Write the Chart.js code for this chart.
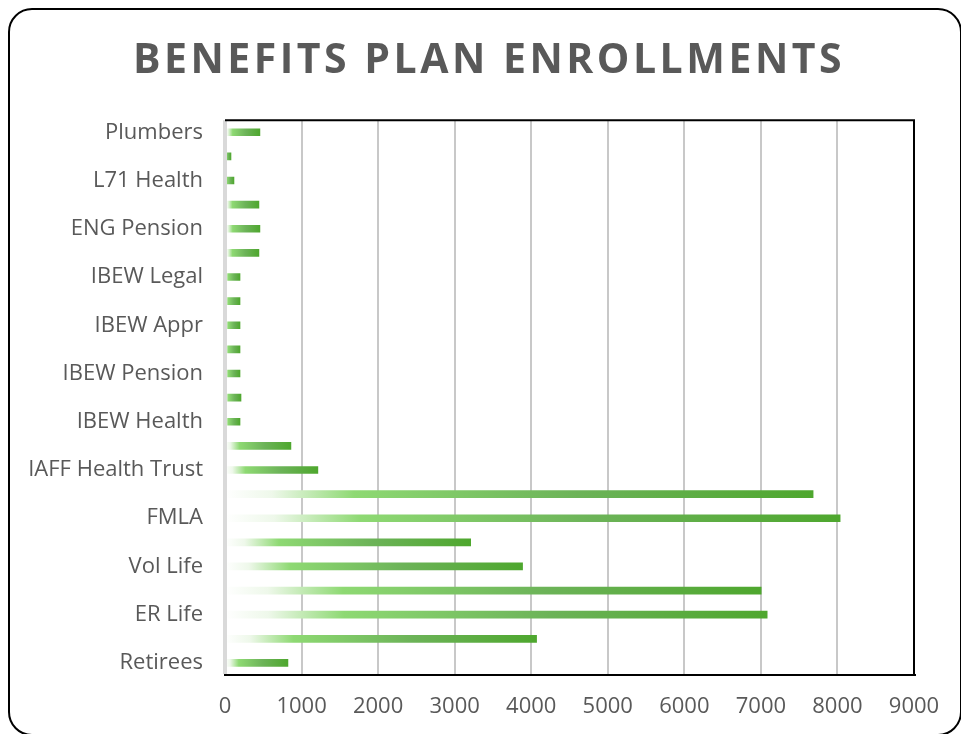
<!DOCTYPE html>
<html>
<head>
<meta charset="utf-8">
<script src="https://cdn.jsdelivr.net/npm/chart.js@4/dist/chart.umd.min.js"></script>
<style>
  html, body { margin: 0; padding: 0; background: #ffffff; }
  #wrap { position: relative; width: 961px; height: 734px; overflow: hidden; }
  #frame {
    position: absolute; left: 8px; top: 8px; width: 954px; height: 728px;
    box-sizing: border-box; border: 2px solid #000; border-radius: 24px; background: #fff;
  }
  #holder { position: absolute; left: 0; top: 0; width: 961px; height: 734px; }
</style>
</head>
<body>
<div id="wrap">
  <div id="frame"></div>
  <div id="holder"><canvas id="chart"></canvas></div>
</div>
<script>
// Plans listed from the top of the chart down to the bottom
const plans = [
  'Plumbers', 'L71 Pension', 'L71 Health', 'ENG Health', 'ENG Pension', 'ENG Annuity',
  'IBEW Legal', 'IBEW Vision', 'IBEW Appr', 'IBEW Annuity', 'IBEW Pension', 'IBEW Dental',
  'IBEW Health', 'IAFF Pension', 'IAFF Health Trust', 'STD', 'FMLA', 'Vision',
  'Vol Life', 'LTD', 'ER Life', 'Dental', 'Retirees'
];
const enrollments = [
  456, 78, 117, 443, 456, 443,
  196, 196, 196, 196, 196, 209,
  196, 861, 1213, 7682, 8035, 3209,
  3887, 7004, 7082, 4070, 822
];
const axisMax = 9000;
const axisStep = 1000;

const textGrey = '#595959';
const baseFont = "'Open Sans', 'Liberation Sans', sans-serif";

// Each bar fades from white at its base to deep green at its tip
function barGradient(context) {
  const chart = context.chart;
  const area = chart.chartArea;
  if (!area || context.type !== 'data') return '#4ea72e';
  const xs = chart.scales.x;
  const x0 = xs.getPixelForValue(0);
  const x1 = xs.getPixelForValue(context.parsed.x);
  if (!isFinite(x0) || !isFinite(x1) || x1 - x0 < 1) return '#4ea72e';
  const g = chart.ctx.createLinearGradient(x0, 0, x1, 0);
  g.addColorStop(0, 'rgba(255,255,255,1)');
  g.addColorStop(0.08, '#eef8ea');
  g.addColorStop(0.22, '#8ed973');
  g.addColorStop(0.6, '#6cb358');
  g.addColorStop(1, '#4ea72e');
  return g;
}

// Black top edge of the plot frame, plus the grey zero line over the bar bases
const frameTop = {
  id: 'frameTop',
  afterDraw(chart) {
    const { ctx, chartArea } = chart;
    const zx = chart.scales.x.getPixelForValue(0);
    ctx.save();
    ctx.strokeStyle = '#d9d9d9';
    ctx.lineWidth = 4;
    ctx.beginPath();
    ctx.moveTo(zx, chartArea.top + 1);
    ctx.lineTo(zx, chartArea.bottom - 1);
    ctx.stroke();
    ctx.strokeStyle = '#000';
    ctx.lineWidth = 2;
    ctx.beginPath();
    ctx.moveTo(chartArea.left, chartArea.top);
    ctx.lineTo(chartArea.right + 1, chartArea.top);
    ctx.stroke();
    ctx.restore();
  }
};

// Spaced-out lettering for the title, centred on the whole card
const titleSpacing = {
  id: 'titleSpacing',
  afterInit(chart) {
    const block = chart.titleBlock;
    if (!block || block._spaced) return;
    const orig = block.draw;
    block.draw = function () {
      const ctx = chart.ctx;
      ctx.save();
      ctx.letterSpacing = '3.5px';
      ctx.translate(32, 0);
      orig.apply(this, arguments);
      ctx.restore();
    };
    block._spaced = true;
  }
};

new Chart(document.getElementById('chart'), {
  type: 'bar',
  data: {
    labels: plans,
    datasets: [{
      label: 'Enrollments',
      data: enrollments,
      backgroundColor: barGradient,
      barThickness: 7,
      borderWidth: 0
    }]
  },
  options: {
    indexAxis: 'y',
    responsive: true,
    maintainAspectRatio: false,
    animation: false,
    layout: { padding: { left: 0, right: 47, top: 0, bottom: 0 } },
    plugins: {
      legend: { display: false },
      tooltip: { enabled: false },
      title: {
        display: true,
        text: 'BENEFITS PLAN ENROLLMENTS',
        color: textGrey,
        font: { family: baseFont, size: 41, weight: '700', lineHeight: 1.2 },
        padding: { top: 37, bottom: 34 }
      }
    },
    scales: {
      x: {
        min: 0,
        max: axisMax,
        ticks: {
          stepSize: axisStep,
          color: textGrey,
          font: { family: baseFont, size: 22 },
          padding: 19,
          callback: (v) => String(v)
        },
        grid: {
          drawTicks: false,
          color: (c) => c.tick && c.tick.value === 0 ? '#d9d9d9'
                      : c.tick && c.tick.value === axisMax ? '#000000' : '#c8c8c8',
          lineWidth: (c) => c.tick && c.tick.value === 0 ? 4 : 2
        },
        border: { display: true, color: '#000000', width: 2 },
        afterFit: (s) => { s.height = 59; }
      },
      y: {
        ticks: {
          autoSkip: false,
          color: textGrey,
          font: { family: baseFont, size: 22 },
          padding: 22,
          callback: function (val, idx) {
            return idx % 2 === 0 ? this.getLabelForValue(val) : '';
          }
        },
        grid: { display: false, drawTicks: false },
        border: { display: false },
        afterFit: (s) => { s.width = 225; }
      }
    }
  },
  plugins: [frameTop, titleSpacing]
});
</script>
</body>
</html>
